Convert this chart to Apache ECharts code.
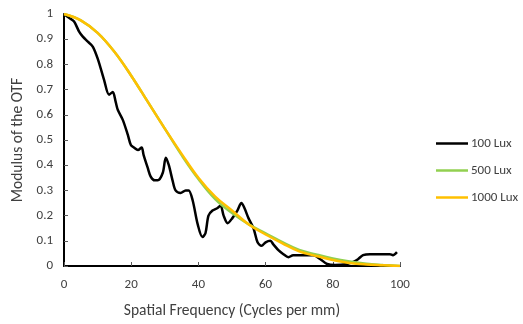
<!DOCTYPE html>
<html>
<head>
<meta charset="utf-8">
<script src="https://cdn.jsdelivr.net/npm/echarts@6/dist/echarts.min.js"></script>
<style>
  html, body { margin: 0; padding: 0; background: #fff; }
  #chart { width: 523px; height: 324px; }
</style>
</head>
<body>
<div id="chart"></div>
<script>
// 100 Lux measured curve (spatial frequency, modulus)
const freq100 = [0, 1.5, 3.0, 4.5, 5.6, 7.1, 8.6, 10.1, 11.9, 13.4, 14.5, 15.4, 16.0, 17.5, 19.0, 19.9,
  20.8, 22.0, 23.1, 23.7, 24.9, 25.8, 27.0, 27.9, 29.4, 30.3, 31.2, 32.3, 33.2, 34.7, 36.2, 37.1, 38.3,
  39.8, 41.2, 42.1, 43.0, 44.2, 45.7, 46.6, 47.5, 48.7, 50.1, 51.6, 52.8, 53.7, 54.9, 56.4, 57.6, 58.8,
  60.0, 61.4, 62.3, 63.8, 65.3, 66.8, 68.2, 71.2, 74.2, 76.3, 78.3, 80.7, 84.3, 86.1, 87.5, 89.0, 91.1,
  95.0, 97.0, 97.9, 99.1]
const mtf100 = [1.0, 0.985, 0.97, 0.93, 0.91, 0.89, 0.87, 0.82, 0.74, 0.68, 0.69, 0.65, 0.62, 0.58, 0.52, 0.48,
  0.47, 0.46, 0.47, 0.44, 0.39, 0.355, 0.34, 0.34, 0.37, 0.43, 0.40, 0.34, 0.30, 0.29, 0.30, 0.30, 0.26,
  0.165, 0.115, 0.13, 0.20, 0.22, 0.23, 0.24, 0.20, 0.17, 0.19, 0.22, 0.25, 0.23, 0.19, 0.15, 0.094, 0.08,
  0.094, 0.10, 0.086, 0.063, 0.047, 0.035, 0.043, 0.043, 0.043, 0.027, 0.008, 0.004, 0.008, 0.016, 0.027, 0.043, 0.047,
  0.047, 0.047, 0.043, 0.055]

// 500 / 1000 Lux curves sampled every 5 cycles/mm
const freqHigh = [0, 5, 10, 15, 20, 25, 30, 35, 40, 45, 50, 55, 60, 65, 70, 75, 80, 85, 90, 95, 100]
const mtf500 = [1.0, 0.975, 0.925, 0.85, 0.755, 0.65, 0.545, 0.44, 0.345, 0.265, 0.21, 0.165, 0.13, 0.095,
  0.064, 0.046, 0.03, 0.018, 0.009, 0.004, 0.0]
const mtf1000 = [1.0, 0.975, 0.925, 0.85, 0.755, 0.65, 0.545, 0.445, 0.35, 0.275, 0.22, 0.165, 0.125, 0.09,
  0.058, 0.04, 0.024, 0.012, 0.006, 0.003, 0.0]

const xTicks = [0, 20, 40, 60, 80, 100]
const yTicks = [0, 0.1, 0.2, 0.3, 0.4, 0.5, 0.6, 0.7, 0.8, 0.9, 1]

const seriesNames = ['100 Lux', '500 Lux', '1000 Lux']
const seriesColors = ['#000000', '#92D050', '#FFC000']

const zip = (xs, ys) => xs.map((x, i) => [x, ys[i]])

const chart = echarts.init(document.getElementById('chart'), null, { renderer: 'canvas' })
const font = "Carlito, 'Open Sans', 'Liberation Sans', sans-serif"
const textColor = '#404040'

chart.setOption({
  animation: false,
  textStyle: { fontFamily: font },
  grid: { left: 64, right: 123, top: 14, bottom: 54, containLabel: false },
  legend: {
    orient: 'vertical',
    left: 431,
    top: 132,
    icon: 'rect',
    itemWidth: 32,
    itemHeight: 2.5,
    itemGap: 14,
    textStyle: { color: textColor, fontSize: 13, fontFamily: font, padding: [0, 0, 0, -2] },
    data: seriesNames
  },
  xAxis: {
    type: 'value',
    min: 0,
    max: 100,
    interval: 20,
    name: 'Spatial Frequency (Cycles per mm)',
    nameLocation: 'middle',
    nameGap: 37,
    nameTextStyle: { color: textColor, fontSize: 15.5 },
    axisLine: { lineStyle: { color: '#000', width: 2 } },
    axisTick: { inside: true, length: 4, lineStyle: { color: '#595959', width: 1 } },
    axisLabel: {
      color: textColor, fontSize: 13, margin: 12,
      formatter: v => (xTicks.includes(v) ? String(v) : '')
    },
    splitLine: { show: false }
  },
  yAxis: {
    type: 'value',
    min: 0,
    max: 1,
    interval: 0.1,
    name: 'Modulus of the OTF',
    nameLocation: 'middle',
    nameGap: 38,
    nameTextStyle: { color: textColor, fontSize: 15.5 },
    axisLine: { show: true, lineStyle: { color: '#000', width: 2 } },
    axisTick: { show: true, inside: true, length: 4, lineStyle: { color: '#595959', width: 1 } },
    axisLabel: {
      color: textColor, fontSize: 13, margin: 11,
      formatter: v => {
        const t = yTicks.find(y => Math.abs(y - v) < 1e-6)
        return t === undefined ? '' : String(t)
      }
    },
    splitLine: { show: false }
  },
  series: [
    {
      name: seriesNames[0], type: 'line', data: zip(freq100, mtf100), symbol: 'none', smooth: 0.3,
      lineStyle: { color: seriesColors[0], width: 2.5 }, itemStyle: { color: seriesColors[0] }, z: 3
    },
    {
      name: seriesNames[1], type: 'line', data: zip(freqHigh, mtf500), symbol: 'none', smooth: 0.4,
      lineStyle: { color: seriesColors[1], width: 2.5 }, itemStyle: { color: seriesColors[1] }, z: 4
    },
    {
      name: seriesNames[2], type: 'line', data: zip(freqHigh, mtf1000), symbol: 'none', smooth: 0.4,
      lineStyle: { color: seriesColors[2], width: 2.5 }, itemStyle: { color: seriesColors[2] }, z: 5
    }
  ]
})
</script>
</body>
</html>
